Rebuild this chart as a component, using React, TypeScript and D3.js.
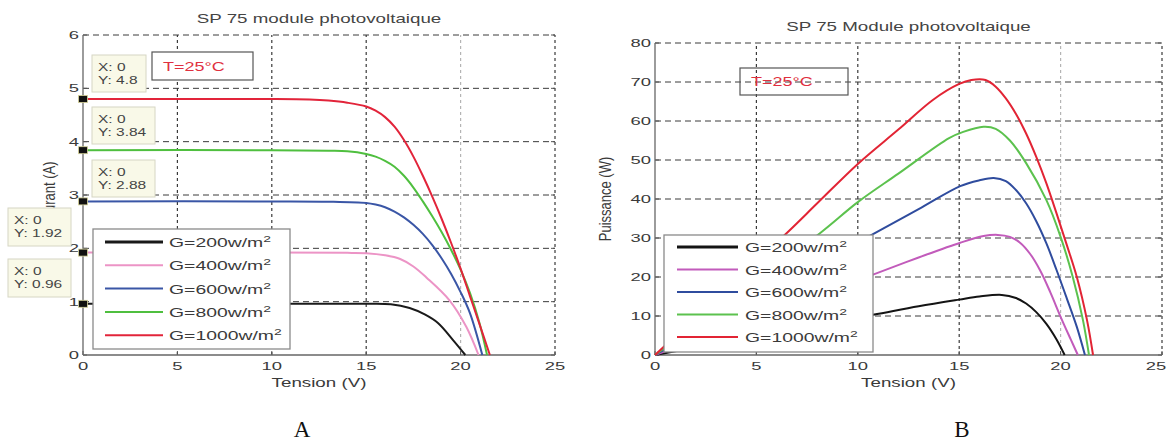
import React from "react";
import * as d3 from "d3";

// irradiance levels (legend) and axis ticks
const irradiances = ["200", "400", "600", "800", "1000"];
const voltageTicks = [0, 5, 10, 15, 20, 25];
const currentTicks = [0, 1, 2, 3, 4, 5, 6];
const powerTicks = [0, 10, 20, 30, 40, 50, 60, 70, 80];

// I-V curves [V, I]
const iv200: [number, number][] = [[0, 0.96], [10, 0.96], [15, 0.96], [16.3, 0.95], [17.3, 0.88], [18.1, 0.76], [18.8, 0.6], [19.6, 0.28], [20.25, 0]];
const iv400: [number, number][] = [[0, 1.92], [10, 1.92], [14, 1.915], [15, 1.91], [16, 1.87], [16.8, 1.8], [17.5, 1.66], [18.2, 1.45], [19.4, 1.03], [20.3, 0.53], [20.95, 0]];
const iv600: [number, number][] = [[0, 2.88], [10, 2.88], [13, 2.875], [15, 2.85], [15.5, 2.82], [16, 2.77], [16.5, 2.69], [17, 2.58], [17.5, 2.44], [18, 2.27], [18.5, 2.06], [19, 1.81], [19.5, 1.52], [20, 1.18], [20.5, 0.78], [21.15, 0]];
const iv800: [number, number][] = [[0, 3.84], [10, 3.84], [13, 3.83], [14, 3.82], [15, 3.77], [15.5, 3.72], [16, 3.64], [16.5, 3.53], [17, 3.36], [17.5, 3.14], [18, 2.88], [18.5, 2.6], [19, 2.3], [19.5, 1.97], [20, 1.6], [20.5, 1.16], [21, 0.6], [21.4, 0]];
const iv1000: [number, number][] = [[0, 4.8], [10, 4.8], [12, 4.79], [13, 4.77], [14, 4.73], [15, 4.66], [15.5, 4.58], [16, 4.46], [16.5, 4.28], [17, 4.03], [17.5, 3.72], [18, 3.36], [18.5, 2.97], [19, 2.55], [19.5, 2.1], [20, 1.62], [20.5, 1.1], [21, 0.58], [21.55, 0]];

// P-V curves [V, P]
const pv200: [number, number][] = [[0, 0], [5, 4.8], [10.75, 10.3], [13, 12.5], [15, 14.2], [16, 15], [17.1, 15.4], [17.8, 14.6], [18.3, 13.2], [18.8, 11], [19.3, 8], [19.8, 4], [20.2, 0]];
const pv400: [number, number][] = [[0, 0], [5, 9.6], [10.75, 20.6], [13, 25], [15.05, 28.8], [16.2, 30.5], [16.9, 30.8], [17.5, 30.3], [18, 28.8], [18.5, 25.9], [19, 21.6], [19.5, 16], [20, 9.8], [20.5, 4], [20.85, 0]];
const pv600: [number, number][] = [[0, 0], [5, 14.4], [10.75, 31], [13, 37.4], [15.05, 43.3], [16, 44.8], [16.7, 45.4], [17.3, 44.6], [17.8, 42.3], [18.3, 38.9], [18.8, 34.3], [19.3, 28.6], [19.8, 21.8], [20.3, 14.6], [20.8, 7.2], [21.2, 0]];
const pv800: [number, number][] = [[0, 0], [4, 15.4], [8.15, 31.3], [10, 39.2], [12, 46.5], [14.5, 55.6], [15.2, 57.2], [16.2, 58.5], [16.8, 58], [17.5, 55], [18.3, 49.2], [19.3, 39.7], [20, 30.3], [20.6, 20], [21.1, 9], [21.4, 0]];
const pv1000: [number, number][] = [[0, 0], [2, 9.7], [4, 19.4], [6.5, 31.3], [8, 38.9], [10, 49], [12, 57.8], [13.7, 65.4], [15, 69.5], [15.6, 70.5], [16.3, 70.5], [16.8, 68.8], [17.3, 65.8], [17.8, 61.8], [18.3, 56.8], [18.8, 50.8], [19.3, 44], [19.8, 36.3], [20.3, 28.3], [20.8, 20], [21.3, 9], [21.6, 0]];

// data tips on the I-V chart (X: 0)
const tipCurrents = [4.8, 3.84, 2.88, 1.92, 0.96];
const tipLabels = ["4.8", "3.84", "2.88", "1.92", "0.96"];

const ivColors = ["#1a1a1a", "#ec94c6", "#3a56a6", "#4fbf3f", "#e2243a"];
const pvColors = ["#141414", "#c25bbb", "#2f4c9e", "#5cc24e", "#e22434"];

const FONT = "'Liberation Sans', Arial, Helvetica, sans-serif";

function SText({ x, y, sx, size, anchor = "start", fill = "#333", children }: any) {
  return (
    <text transform={`translate(${x},${y}) scale(${sx},1)`} fontSize={size} textAnchor={anchor} fill={fill} fontFamily={FONT}>
      {children}
    </text>
  );
}

function Panel({ series, colors, xr, yr, yMax, yTicks, title, yLabel, legend, tBox, yLabelX, tips }: any) {
  const x = d3.scaleLinear().domain([0, 25]).range(xr);
  const y = d3.scaleLinear().domain([0, yMax]).range(yr);
  const line = d3.line<[number, number]>().x((d) => x(d[0])).y((d) => y(d[1])).curve(d3.curveCatmullRom.alpha(0.5));
  const [left, right] = xr;
  const [bottom, top] = yr;
  return (
    <g>
      {/* grid */}
      {yTicks.filter((t: number) => t > 0).map((t: number) => (
        <line key={"h" + t} x1={left} x2={right} y1={y(t)} y2={y(t)} stroke="#3a3a3a" strokeWidth={1} strokeDasharray="6,4" />
      ))}
      {voltageTicks.filter((t) => t > 0).map((t) => (
        <line key={"v" + t} x1={x(t)} x2={x(t)} y1={bottom} y2={top} stroke={t === 20 ? "#b4b4b4" : "#3a3a3a"} strokeWidth={1.2} strokeDasharray="3,3" />
      ))}
      {/* ticks */}
      {yTicks.map((t: number) => (
        <g key={"yt" + t}>
          <line x1={left} x2={left + 4} y1={y(t)} y2={y(t)} stroke="#555" />
          <line x1={right} x2={right - 4} y1={y(t)} y2={y(t)} stroke="#555" />
        </g>
      ))}
      {voltageTicks.map((t) => (
        <line key={"xt" + t} x1={x(t)} x2={x(t)} y1={bottom} y2={bottom - 4} stroke="#555" />
      ))}
      {/* axes */}
      <line x1={left} x2={right} y1={bottom} y2={bottom} stroke="#666" strokeWidth={1.3} />
      <line x1={left} x2={left} y1={bottom} y2={top} stroke="#666" strokeWidth={1.3} />
      {/* tick labels */}
      {yTicks.map((t: number) => (
        <SText key={"yl" + t} x={left - 4} y={y(t) + 4} sx={1.6} size={11.5} anchor="end" fill="#3a3a3a">{t}</SText>
      ))}
      {voltageTicks.map((t) => (
        <SText key={"xl" + t} x={Math.min(x(t), 1156)} y={bottom + 15} sx={1.6} size={11.5} anchor="middle" fill="#3a3a3a">{t}</SText>
      ))}
      <SText x={(left + right) / 2} y={bottom + 32} sx={1.5} size={12.5} anchor="middle" fill="#3a3a3a">Tension (V)</SText>
      <text transform={`translate(${yLabelX},${(top + bottom) / 2}) rotate(-90) scale(1,1.3)`} fontSize={13} textAnchor="middle" fill="#3a3a3a" fontFamily={FONT}>{yLabel}</text>
      <SText x={(left + right) / 2} y={top - 12} sx={1.5} size={12.5} anchor="middle" fill="#444">{title}</SText>
      {/* curves */}
      {series.map((s: [number, number][], i: number) => (
        <path key={"c" + i} d={line(s) || ""} fill="none" stroke={colors[i]} strokeWidth={2} />
      ))}
      {/* temperature box */}
      <rect x={tBox.x} y={tBox.y} width={tBox.w} height={tBox.h} fill={tBox.fill} stroke="#555" strokeWidth={1.2} />
      <SText x={tBox.x + 11} y={tBox.y + tBox.h / 2 + 4.5} sx={1.5} size={12} fill="#e03040">T=25°C</SText>
      {/* legend */}
      <rect x={legend.x} y={legend.y} width={legend.w} height={legend.h} fill="#fff" stroke="#8a8a8a" strokeWidth={1.3} />
      {irradiances.map((g, i) => {
        const ly = legend.y + legend.first + i * legend.step;
        return (
          <g key={"lg" + g}>
            <line x1={legend.x + legend.l0} x2={legend.x + legend.l1} y1={ly} y2={ly} stroke={colors[i]} strokeWidth={i === 0 ? 3 : 2} />
            <SText x={legend.x + legend.tx} y={ly + 5} sx={1.55} size={12.5} fill="#3a3a3a">
              G={g}w/m<tspan dy={-5} fontSize={9}>2</tspan>
            </SText>
          </g>
        );
      })}
      {/* data tips */}
      {tips && tipCurrents.map((v, i) => {
        const b = tips[i];
        return (
          <g key={"tip" + i}>
            <rect x={b.x} y={b.y} width={b.w} height={b.h} fill="#f9f9e8" stroke="#d6d6c4" strokeWidth={1} />
            <SText x={b.x + 6} y={b.y + 16} sx={1.55} size={10} fill="#444">X: 0</SText>
            <SText x={b.x + 6} y={b.y + 29} sx={1.55} size={10} fill="#444">Y: {tipLabels[i]}</SText>
            <rect x={x(0) - 4.5} y={y(v) - 3.5} width={9} height={7} fill="#111" stroke="#d8d49a" strokeWidth={0.8} />
          </g>
        );
      })}
    </g>
  );
}

export default function App() {
  const leftTips = [
    { x: 92, y: 55, w: 54, h: 37 },
    { x: 92, y: 107, w: 63, h: 37 },
    { x: 92, y: 160, w: 63, h: 37 },
    { x: 8, y: 208, w: 63, h: 38 },
    { x: 8, y: 259, w: 63, h: 38 },
  ];
  return (
    <div style={{ position: "absolute", left: 0, top: 0 }}>
      <svg width={1169} height={448} style={{ display: "block", background: "#fff" }}>
        <Panel
          series={[iv200, iv400, iv600, iv800, iv1000]}
          colors={ivColors}
          xr={[83, 555]}
          yr={[355, 35]}
          yMax={6}
          yTicks={currentTicks}
          title="SP 75 module photovoltaique"
          yLabel="Courant (A)"
          yLabelX={55}
          legend={{ x: 93, y: 229, w: 197, h: 120, first: 13, step: 23.3, l0: 12, l1: 70, tx: 76 }}
          tBox={{ x: 152, y: 52, w: 101, h: 28, fill: "#fff" }}
          tips={leftTips}
        />
        <Panel
          series={[pv200, pv400, pv600, pv800, pv1000]}
          colors={pvColors}
          xr={[655, 1162]}
          yr={[355, 43]}
          yMax={80}
          yTicks={powerTicks}
          title="SP 75 Module photovoltaique"
          yLabel="Puissance (W)"
          yLabelX={611}
          legend={{ x: 664, y: 235, w: 209, h: 117, first: 12, step: 22.5, l0: 13, l1: 74, tx: 81 }}
          tBox={{ x: 740, y: 68, w: 108, h: 27, fill: "none" }}
          tips={null}
        />
        <text x={302} y={437} fontSize={23} textAnchor="middle" fill="#111" fontFamily="'Liberation Serif', 'Times New Roman', serif">A</text>
        <text x={962} y={437} fontSize={23} textAnchor="middle" fill="#111" fontFamily="'Liberation Serif', 'Times New Roman', serif">B</text>
      </svg>
    </div>
  );
}
